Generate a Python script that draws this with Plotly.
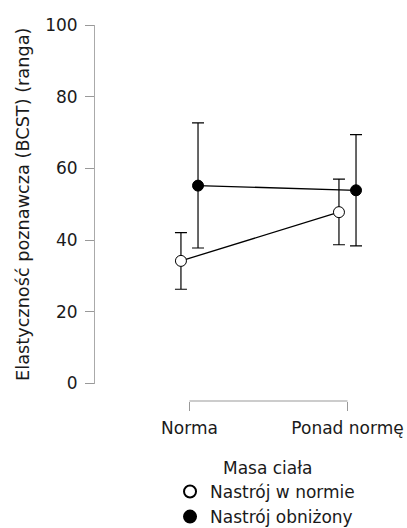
import plotly.graph_objects as go

categories = ["Norma", "Ponad normę"]
series_names = ["Nastrój w normie", "Nastrój obniżony"]
means_normal = [34.2, 47.8]
upper_normal = [42.1, 57.0]
lower_normal = [26.3, 38.7]
means_low = [55.2, 53.9]
upper_low = [72.7, 69.4]
lower_low = [37.8, 38.4]
y_ticks = [0, 20, 40, 60, 80, 100]

FONT = "DejaVu Sans, sans-serif"
TXT = "#1a1a1a"
DODGE = 0.054
idx = list(range(len(categories)))

fig = go.Figure()
specs = [
    (series_names[0], means_normal, upper_normal, lower_normal, "white", -DODGE),
    (series_names[1], means_low, upper_low, lower_low, "black", DODGE),
]
for name, m, up, lo, fill, off in specs:
    fig.add_trace(go.Scatter(
        x=[i + off for i in idx], y=m, name=name, mode="lines+markers",
        line=dict(color="black", width=1.3),
        marker=dict(size=11, color=fill, line=dict(color="black", width=1)),
        error_y=dict(type="data", symmetric=False,
                     array=[u - v for u, v in zip(up, m)],
                     arrayminus=[v - l for v, l in zip(m, lo)],
                     color="black", thickness=1.2, width=6),
        cliponaxis=False, showlegend=False,
    ))
    # legend entry: marker only
    fig.add_trace(go.Scatter(
        x=[None], y=[None], name=name, mode="markers",
        marker=dict(size=11, color=fill, line=dict(color="black", width=1)),
        showlegend=True,
    ))

# x-axis bracket
fig.add_shape(type="line", xref="x", yref="paper", x0=idx[0], x1=idx[-1], y0=0, y1=0,
              line=dict(color="#999999", width=1))

fig.add_annotation(text="Masa ciała", xref="x", yref="paper", x=(idx[0] + idx[-1]) / 2,
                   y=-0.178, yanchor="middle", showarrow=False,
                   font=dict(family=FONT, size=17, color=TXT))

fig.update_layout(
    width=407, height=528,
    margin=dict(l=95, r=2, t=25, b=127, autoexpand=False),
    plot_bgcolor="white", paper_bgcolor="white",
    font=dict(family=FONT, size=17, color=TXT),
    showlegend=True,
    legend=dict(x=0.242, y=-0.194, xanchor="left", yanchor="top",
                font=dict(family=FONT, size=17, color=TXT),
                bgcolor="rgba(0,0,0,0)", tracegroupgap=0, itemsizing="constant"),
    xaxis=dict(range=[-0.598, 1.364], tickvals=idx, ticktext=categories,
               showgrid=False, zeroline=False, showline=False,
               ticks="outside", ticklen=9, tickcolor="#999999", tickwidth=1,
               anchor="free", position=0, ticklabelstandoff=3,
               tickfont=dict(family=FONT, size=17, color=TXT)),
    yaxis=dict(range=[0, 100], domain=[0.0465, 1], tickvals=y_ticks,
               showgrid=False, zeroline=False, showline=True, linecolor="#aaaaaa", linewidth=1,
               ticks="outside", ticklen=9, tickcolor="#999999", tickwidth=1,
               ticklabelstandoff=4,
               tickfont=dict(family=FONT, size=17, color=TXT),
               title=dict(text="Elastyczność poznawcza (BCST) (ranga)", standoff=10,
                          font=dict(family=FONT, size=17.7, color=TXT))),
)

fig.write_html("out.html", config={"displayModeBar": False},
               post_script="document.body.style.margin='0';document.body.style.overflow='hidden';")
